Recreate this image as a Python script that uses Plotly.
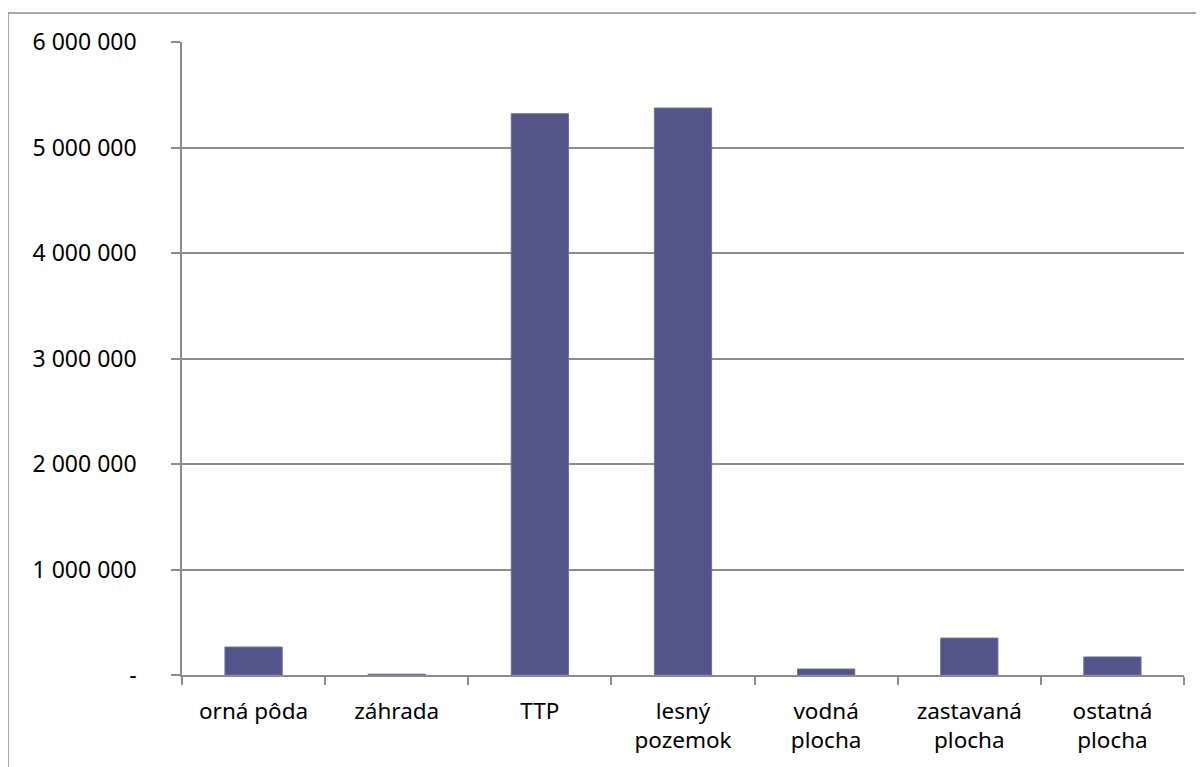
import plotly.graph_objects as go

categories = ["orná pôda", "záhrada", "TTP", "lesný<br>pozemok", "vodná<br>plocha",
              "zastavaná<br>plocha", "ostatná<br>plocha"]
values = [265000, 8000, 5320000, 5374000, 57000, 350000, 171000]
y_tickvals = [0, 1000000, 2000000, 3000000, 4000000, 5000000, 6000000]
y_ticktext = ["-", "1 000 000", "2 000 000", "3 000 000", "4 000 000", "5 000 000", "6 000 000"]

bar_color = "#53548A"
grid_color = "#8C8C8C"
xfont = dict(family="Noto Sans", size=22.5, color="#000000")
yfont = dict(family="Noto Sans", size=23, color="#000000")

fig = go.Figure(go.Bar(
    x=categories, y=values,
    marker=dict(color=bar_color, line=dict(color="#6E6FA3", width=1)),
    width=0.4,
))

# page body has an 8px offset
L, R, T, B = 174, 28, 34, 100
W, H = 1204, 767
pw, ph = W - L - R, H - T - B

fig.update_layout(
    width=W, height=H,
    margin=dict(l=L, r=R, t=T, b=B, pad=0),
    paper_bgcolor="white", plot_bgcolor="white",
    font=xfont, showlegend=False,
    shapes=[dict(type="rect", xref="paper", yref="paper",
                 x0=(0 - L) / pw, x1=1.3, y0=-0.5, y1=1 + (T - 5) / ph,
                 line=dict(color="#8C8C8C", width=1.5), fillcolor="rgba(0,0,0,0)",
                 layer="below")],
)
fig.update_xaxes(
    type="category", tickson="boundaries", ticks="outside", ticklen=8,
    tickcolor=grid_color, tickwidth=1.5,
    showline=True, linecolor=grid_color, linewidth=1.5,
    showgrid=False, tickfont=xfont, ticklabelstandoff=15,
)
fig.update_yaxes(
    range=[0, 6000000], tickvals=y_tickvals, ticktext=y_ticktext,
    ticks="outside", ticklen=9, tickcolor=grid_color, tickwidth=1.5,
    showline=True, linecolor=grid_color, linewidth=1.5,
    showgrid=True, gridcolor=grid_color, gridwidth=1.5,
    zeroline=False, tickfont=yfont, ticklabelstandoff=30,
)

fig.write_html("out.html")
